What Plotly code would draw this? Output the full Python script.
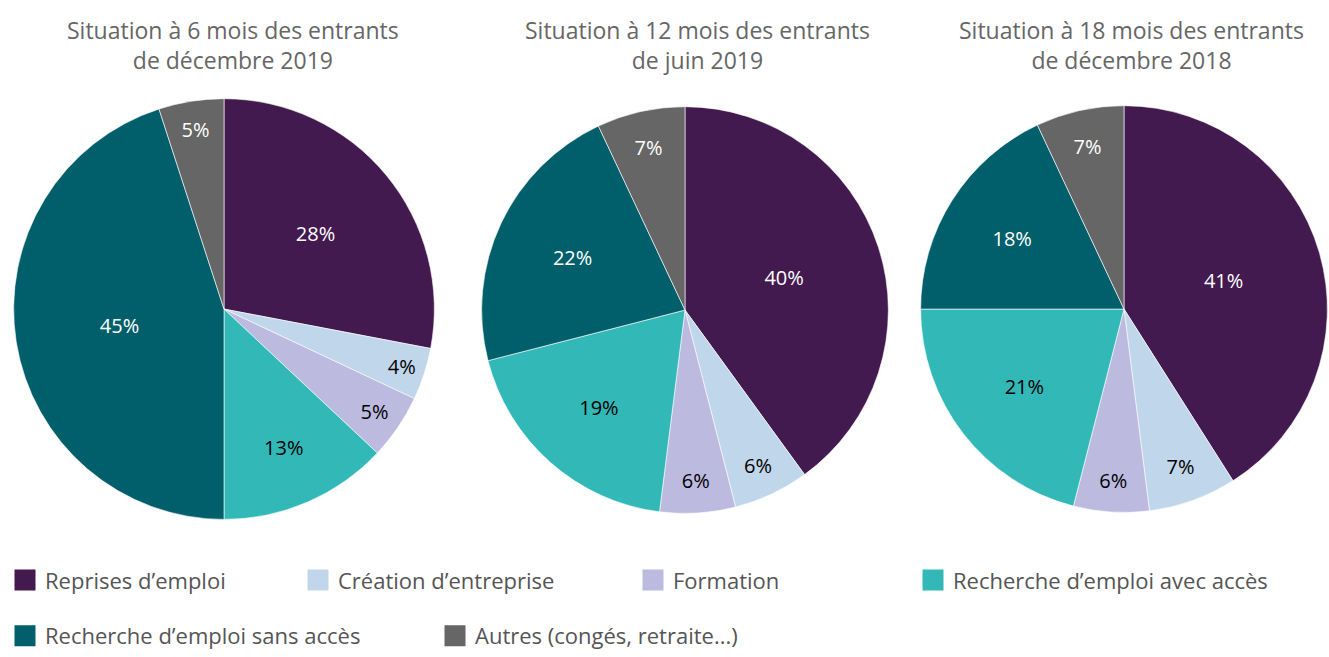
import plotly.graph_objects as go

categories = ["Reprises d’emploi", "Création d’entreprise", "Formation",
              "Recherche d’emploi avec accès", "Recherche d’emploi sans accès",
              "Autres (congés, retraite...)"]
colors = ["#431A4F", "#C0D6EA", "#BDBADF", "#33B8B8", "#005F6B", "#666666"]
text_colors = ["white", "black", "black", "black", "white", "white"]

titles = ["Situation à 6 mois des entrants<br>de décembre 2019",
          "Situation à 12 mois des entrants<br>de juin 2019",
          "Situation à 18 mois des entrants<br>de décembre 2018"]
values_6m = [28, 4, 5, 13, 45, 5]
values_12m = [40, 6, 6, 19, 22, 7]
values_18m = [41, 7, 6, 21, 18, 7]
all_values = [values_6m, values_12m, values_18m]

W, H = 1329, 657


def px(x):
    return x / W


def py(y):
    return 1 - y / H


# pie geometry in screen pixels: (center x, center y, radius)
geoms = [(224, 310, 211), (685, 311, 204), (1124, 310, 204)]
title_x = [233, 697, 1131]

font_family = "'Open Sans', sans-serif"
fig = go.Figure()

for vals, (cx, cy, r) in zip(all_values, geoms):
    x0, x1 = max(px(cx - r), 0.0), min(px(cx + r), 1.0)
    y0, y1 = py(cy + r), py(cy - r)
    fig.add_trace(go.Pie(
        labels=categories, values=vals, sort=False, direction="clockwise",
        rotation=0, domain=dict(x=[x0, x1], y=[y0, y1]),
        marker=dict(colors=colors, line=dict(color="white", width=0.6)),
        texttemplate="%{value}%", textposition="inside",
        insidetextorientation="horizontal",
        textfont=dict(family=font_family, size=20, color=text_colors),
        showlegend=False, hoverinfo="label+percent",
    ))

for t, tx in zip(titles, title_x):
    fig.add_annotation(text=t, x=px(tx), y=py(45.5), xref="paper", yref="paper",
                       showarrow=False, xanchor="center", yanchor="middle",
                       font=dict(family=font_family, size=23, color="#666666"))

# legend entries (dummy traces used only for legend placement)
legend_pos = [(5, 582), (298, 582), (633, 582), (913, 582), (5, 638), (435, 638)]
legend_names = ["legend", "legend2", "legend3", "legend4", "legend5", "legend6"]
for cat, col, ln in zip(categories, colors, legend_names):
    fig.add_trace(go.Scatter(
        x=[None], y=[None], mode="markers", name=cat, legend=ln,
        marker=dict(symbol="square", size=16, color=col,
                    line=dict(color=col, width=5)),
        showlegend=True,
    ))

layout_legends = {}
for ln, (lx, ly) in zip(legend_names, legend_pos):
    layout_legends[ln] = dict(
        x=px(lx), y=py(ly), xanchor="left", yanchor="middle",
        bgcolor="rgba(0,0,0,0)", itemsizing="trace",
        font=dict(family=font_family, size=22, color="#555555"),
    )

fig.update_layout(
    width=W, height=H,
    margin=dict(l=0, r=0, t=0, b=0),
    paper_bgcolor="white", plot_bgcolor="white",
    xaxis=dict(visible=False), yaxis=dict(visible=False),
    **layout_legends,
)

fig.write_html(
    "out.html",
    config={"displayModeBar": False},
    post_script="document.body.style.margin='0px';document.body.style.overflow='hidden';",
)
